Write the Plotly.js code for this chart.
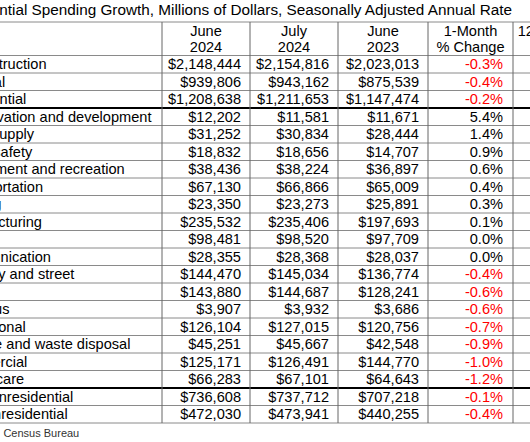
<!DOCTYPE html>
<html>
<head>
<meta charset="utf-8">
<script src="https://cdn.plot.ly/plotly-3.0.1.min.js"></script>
<style>html,body{margin:0;padding:0;background:#fff;}#chart{width:530px;height:442px;}</style>
</head>
<body>
<div id="chart"></div>
<script>
// ---- data ----
const titleText = "Nonresidential Spending Growth, Millions of Dollars, Seasonally Adjusted Annual Rate";
const sourceText = "Source: U.S. Census Bureau";
const headerLine1 = ["June", "July", "June", "1-Month", "12-Month %"];
const headerLine2 = ["2024", "2024", "2023", "% Change", "Change"];
const categories = ["Total construction", "Residential", "Nonresidential",
  "Conservation and development", "Water supply", "Public safety", "Amusement and recreation",
  "Transportation", "Lodging", "Manufacturing", "Office", "Communication", "Highway and street",
  "Power", "Religious", "Educational", "Sewage and waste disposal", "Commercial", "Health care",
  "Private nonresidential", "Public nonresidential"];
const june2024 = [2148444, 939806, 1208638, 12202, 31252, 18832, 38436, 67130, 23350, 235532, 98481,
  28355, 144470, 143880, 3907, 126104, 45251, 125171, 66283, 736608, 472030];
const july2024 = [2154816, 943162, 1211653, 11581, 30834, 18656, 38224, 66866, 23273, 235406, 98520,
  28368, 145034, 144687, 3932, 127015, 45667, 126491, 67101, 737712, 473941];
const june2023 = [2023013, 875539, 1147474, 11671, 28444, 14707, 36897, 65009, 25891, 197693, 97709,
  28037, 136774, 128241, 3686, 120756, 42548, 144770, 64643, 707218, 440255];
const oneMonthPct = [-0.3, -0.4, -0.2, 5.4, 1.4, 0.9, 0.6, 0.4, 0.3, 0.1, 0.0, 0.0, -0.4, -0.6, -0.6,
  -0.7, -0.9, -1.0, -1.2, -0.1, -0.4];

// ---- layout constants ----
const W = 530, H = 442;
const FONT = "Liberation Sans, Arial, Helvetica, sans-serif";
const FS = 14.6;
const colEdges = [162, 250, 338, 428, 513, 601];
const tableTop = 22, headTop = 55.5, rowH = 17.5;
const topLeft = -67, subLeft = -50.5;
const pad = 9;
const dy = 1.4;
const nRows = categories.length;
const isTop = i => (i < 3 || i >= nRows - 2);

const rowY = i => headTop + rowH * (i + 0.5) + dy;
const money = v => "$" + v.toLocaleString("en-US");
const pct = v => v.toFixed(1) + "%";

const traces = [];
const txt = (x, y, text, pos, color, size) => ({
  type: "scatter", mode: "text", x: x, y: y, text: text, textposition: pos,
  textfont: {family: FONT, size: size || FS, color: color || "#000"},
  cliponaxis: true, hoverinfo: "skip", showlegend: false
});

// title & source
traces.push(txt([-70.5], [11.5], [titleText], "middle right", "#000", 15.3));
traces.push(txt([-62], [434], [sourceText], "middle right", "#333", 11));

// headers
const centers = colEdges.slice(0, -1).map((e, k) => (e + colEdges[k + 1]) / 2);
traces.push(txt(centers, centers.map(() => 32.3), headerLine1, "middle center"));
traces.push(txt(centers.slice(0, 4), centers.slice(0, 4).map(() => 48.3), headerLine2.slice(0, 4), "middle center"));

// labels
traces.push(txt(categories.map((c, i) => isTop(i) ? topLeft : subLeft),
  categories.map((c, i) => rowY(i)), categories, "middle right"));

// numeric columns
const numCols = [june2024, july2024, june2023];
numCols.forEach((arr, k) => {
  traces.push(txt(arr.map(() => colEdges[k + 1] - pad), arr.map((v, i) => rowY(i)),
    arr.map(money), "middle left"));
});
traces.push(txt(oneMonthPct.map(() => colEdges[4] - pad - 1), oneMonthPct.map((v, i) => rowY(i)),
  oneMonthPct.map(pct), "middle left", oneMonthPct.map(v => v < 0 ? "#ff0000" : "#000")));

// grid lines
const shapes = [];
const hl = (y, w, c) => shapes.push({type: "line", xref: "x", yref: "y", x0: -100, x1: 700, y0: y, y1: y,
  line: {color: c, width: w}});
hl(tableTop, 1, "#8a8a8a");
hl(headTop, 1, "#8a8a8a");
for (let i = 1; i <= nRows; i++) {
  const y = headTop + rowH * i;
  if (i === 3 || i === nRows - 2) hl(y, 2, "#000");
  else hl(y, 1, "#8a8a8a");
}
colEdges.forEach(x => shapes.push({type: "line", xref: "x", yref: "y", x0: x, x1: x,
  y0: tableTop, y1: headTop + rowH * nRows, line: {color: "#666", width: 1}}));

const layout = {
  width: W, height: H,
  margin: {l: 0, r: 0, t: 0, b: 0, pad: 0},
  paper_bgcolor: "#fff", plot_bgcolor: "#fff",
  xaxis: {range: [0, W], visible: false, fixedrange: true},
  yaxis: {range: [H, 0], visible: false, fixedrange: true},
  shapes: shapes,
  showlegend: false
};

Plotly.newPlot("chart", traces, layout, {displayModeBar: false, staticPlot: true});
</script>
</body>
</html>
